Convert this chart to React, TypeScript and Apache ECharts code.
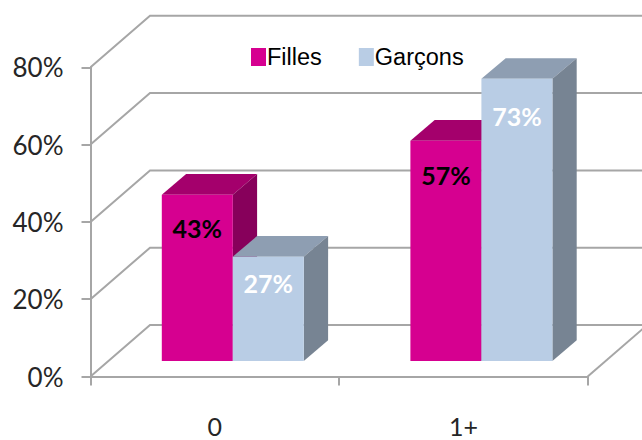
import React, { useEffect, useRef } from "react";
import * as echarts from "echarts";

const categories = ["0", "1+"];
const yTicks = [0, 20, 40, 60, 80];
const filles = [43, 57];
const garcons = [27, 73];

// Drawing constants for the fake 3D look (pixels)
const WALL_DX = 59.5;
const WALL_DY = -51.5;
const FRONT_DX = 18;
const FRONT_DY = -15.5;
const BAR_W = 71;
const DEPTH_DX = 24.3;
const DEPTH_DY = -20.7;
const LABEL_DROP: Record<string, number[]> = { Filles: [33, 34], "Garçons": [26, 37] };

function barSeries(name: string, values: number[], side: number, front: string, top: string, right: string, labelColor: string) {
  return {
    type: "custom",
    name,
    itemStyle: { color: front },
    data: values.map((v, i) => [i, v]),
    encode: { x: 0, y: 1 },
    z: 3,
    renderItem: (params: any, api: any) => {
      const i = api.value(0);
      const v = api.value(1);
      const t = api.coord([i, v]);
      const b = api.coord([i, 0]);
      const x0 = t[0] + FRONT_DX + (side === 0 ? -BAR_W : 0);
      const x1 = x0 + BAR_W;
      const yT = t[1] + FRONT_DY;
      const yB = b[1] + FRONT_DY;
      const poly = (points: number[][], fill: string) => ({ type: "polygon", shape: { points }, style: { fill } });
      return {
        type: "group",
        children: [
          poly([[x0, yT], [x1, yT], [x1 + DEPTH_DX, yT + DEPTH_DY], [x0 + DEPTH_DX, yT + DEPTH_DY]], top),
          poly([[x1, yT], [x1 + DEPTH_DX, yT + DEPTH_DY], [x1 + DEPTH_DX, yB + DEPTH_DY], [x1, yB]], right),
          poly([[x0, yT], [x1, yT], [x1, yB], [x0, yB]], front),
          {
            type: "text",
            x: (x0 + x1) / 2,
            y: yT + LABEL_DROP[name][i],
            style: {
              text: v + "%",
              fill: labelColor,
              font: "bold 25px Lato",
              align: "center",
              verticalAlign: "middle",
            },
          },
        ],
      };
    },
  };
}

const wallSeries = {
  type: "custom",
  name: "walls",
  data: yTicks.map((v) => [0, v]),
  encode: { x: 0, y: 1 },
  z: 1,
  silent: true,
  renderItem: (params: any, api: any) => {
    const cs = params.coordSys;
    const y = api.coord([0, api.value(1)])[1];
    const lineStyle = { stroke: "#a6a6a6", lineWidth: 2, fill: "none" };
    const children: any[] = [
      {
        type: "polyline",
        shape: { points: [[cs.x, y], [cs.x + WALL_DX, y + WALL_DY], [660, y + WALL_DY]] },
        style: lineStyle,
      },
    ];
    if (api.value(1) === 0) {
      const xr = cs.x + cs.width;
      children.push({
        type: "line",
        shape: { x1: xr, y1: y, x2: xr + WALL_DX, y2: y + WALL_DY },
        style: lineStyle,
      });
    }
    return { type: "group", children };
  },
};

export default function App() {
  const ref = useRef<HTMLDivElement>(null);
  useEffect(() => {
    document.body.style.margin = "0";
    const chart = echarts.init(ref.current!, null, { renderer: "svg" });
    chart.setOption({
      animation: false,
      backgroundColor: "#ffffff",
      grid: { left: 90.5, right: 54.3, top: 67.3, bottom: 63.5 },
      legend: {
        left: 251,
        top: 45,
        padding: 0,
        data: ["Filles", "Garçons"],
        icon: "rect",
        itemWidth: 15,
        itemHeight: 18,
        itemGap: 37,
        textStyle: { fontFamily: "Liberation Sans", fontSize: 23.5, color: "#000000", padding: [0, 0, 0, -4] },
      },
      xAxis: {
        type: "category",
        data: categories,
        axisLine: { lineStyle: { color: "#a6a6a6", width: 2 } },
        axisTick: { show: true, length: 9, lineStyle: { color: "#a6a6a6", width: 2 } },
        axisLabel: { fontFamily: "Lato", fontSize: 25, color: "#262626", margin: 37 },
      },
      yAxis: {
        type: "value",
        min: 0,
        max: 80,
        interval: 20,
        splitLine: { show: false },
        axisLine: { show: true, lineStyle: { color: "#a6a6a6", width: 2 } },
        axisTick: { show: true, length: 9, lineStyle: { color: "#a6a6a6", width: 2 } },
        axisLabel: { fontFamily: "Lato", fontSize: 26, color: "#262626", margin: 27, formatter: "{value}%" },
      },
      series: [
        wallSeries,
        barSeries("Filles", filles, 0, "#d60090", "#a4006c", "#87005b", "#000000"),
        barSeries("Garçons", garcons, 1, "#b9cde5", "#8e9eb2", "#778493", "#ffffff"),
      ],
    });
    return () => chart.dispose();
  }, []);
  return <div ref={ref} style={{ width: 642, height: 440 }} />;
}
